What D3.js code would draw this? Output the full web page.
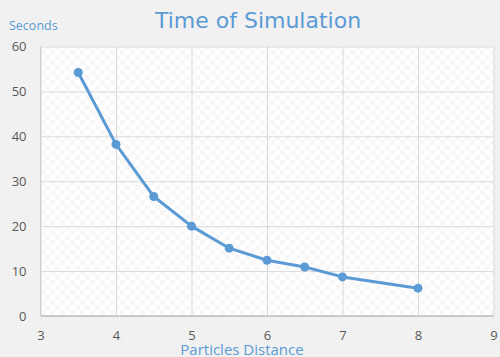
<!DOCTYPE html>
<html><head><meta charset="utf-8">
<script src="https://cdn.jsdelivr.net/npm/d3@7"></script>
<style>body{margin:0;}svg{display:block;}</style>
</head><body>
<script>
const xValues = [3.5, 4, 4.5, 5, 5.5, 6, 6.5, 7, 8];
const seconds = [54.2, 38.2, 26.6, 20.0, 15.1, 12.4, 10.9, 8.7, 6.2];
const xTicks = [3, 4, 5, 6, 7, 8, 9];
const yTicks = [0, 10, 20, 30, 40, 50, 60];
const title = "Time of Simulation";
const xTitle = "Particles Distance";
const yTitle = "Seconds";

const W = 500, H = 357;
const m = {left: 40.5, right: 6.5, top: 46.5, bottom: 41};
const blue = "#5b9bd5";
const svg = d3.select("body").append("svg").attr("width", W).attr("height", H);
const defs = svg.append("defs");
const p1 = defs.append("pattern").attr("id","dots").attr("width",4).attr("height",4).attr("patternUnits","userSpaceOnUse");
p1.append("rect").attr("width",4).attr("height",4).attr("fill","#f0f0f0");
p1.append("rect").attr("x",1).attr("y",1).attr("width",1).attr("height",1).attr("fill","#f8f8f8");
p1.append("rect").attr("x",3).attr("y",3).attr("width",1).attr("height",1).attr("fill","#f8f8f8");
const p2 = defs.append("pattern").attr("id","check").attr("width",10).attr("height",10).attr("patternUnits","userSpaceOnUse");
p2.append("rect").attr("width",10).attr("height",10).attr("fill","#ffffff");
p2.append("rect").attr("width",5).attr("height",5).attr("fill","#f7f7f7");
p2.append("rect").attr("x",5).attr("y",5).attr("width",5).attr("height",5).attr("fill","#f7f7f7");

svg.append("rect").attr("width",W).attr("height",H).attr("fill","url(#dots)");

const x = d3.scaleLinear().domain([3, 9]).range([m.left, W - m.right]);
const y = d3.scaleLinear().domain([0, 60]).range([H - m.bottom, m.top]);

svg.append("rect").attr("x", x(3)).attr("y", y(60)).attr("width", x(9)-x(3)).attr("height", y(0)-y(60)).attr("fill","url(#check)");

const gx = svg.append("g").attr("transform", `translate(0,${y(0)})`)
  .call(d3.axisBottom(x).tickValues(xTicks).tickSize(-(y(0)-y(60))).tickPadding(15).tickFormat(d3.format("d")));
const gy = svg.append("g").attr("transform", `translate(${x(3)},0)`)
  .call(d3.axisLeft(y).tickValues(yTicks).tickSize(-(x(9)-x(3))).tickPadding(14).tickFormat(d3.format("d")));
[gx, gy].forEach(g => {
  g.select(".domain").remove();
  g.selectAll("line").attr("stroke", "#d9d9d9").attr("stroke-width", 1);
  g.selectAll("text").attr("fill", "#595959").attr("font-family", "Open Sans, sans-serif").attr("font-size", 13);
});
svg.append("line").attr("x1", x(3)).attr("x2", x(9)).attr("y1", y(0)).attr("y2", y(0)).attr("stroke","#bfbfbf").attr("stroke-width",1.5);
svg.append("line").attr("x1", x(3)).attr("x2", x(3)).attr("y1", y(0)).attr("y2", y(60)).attr("stroke","#d0d0d0").attr("stroke-width",1);

const pts = xValues.map((v,i)=>[v, seconds[i]]);
svg.append("path").datum(pts).attr("fill","none").attr("stroke",blue).attr("stroke-width",3).attr("stroke-linejoin","round")
  .attr("d", d3.line().x(d=>x(d[0])).y(d=>y(d[1])));
svg.selectAll("circle.pt").data(pts).join("circle").attr("class","pt")
  .attr("cx", d=>x(d[0])).attr("cy", d=>y(d[1])).attr("r", 4.5).attr("fill", blue);

svg.append("text").attr("x", 258).attr("y", 28).attr("text-anchor","middle").attr("fill", blue)
  .attr("font-family","DejaVu Sans, sans-serif").attr("font-size", 22).text(title);
svg.append("text").attr("x", 9).attr("y", 30).attr("fill", blue)
  .attr("font-family","Open Sans, sans-serif").attr("font-size", 12.5).text(yTitle);
svg.append("text").attr("x", 242).attr("y", 355).attr("text-anchor","middle").attr("fill", blue)
  .attr("font-family","Open Sans, sans-serif").attr("font-size", 15).text(xTitle);
</script>
</body></html>
